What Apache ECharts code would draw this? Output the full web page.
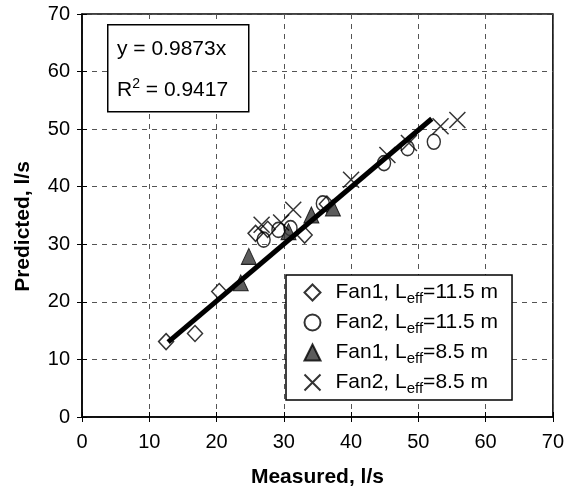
<!DOCTYPE html>
<html><head><meta charset="utf-8">
<script src="https://cdn.jsdelivr.net/npm/echarts@6/dist/echarts.min.js"></script>
<style>html,body{margin:0;padding:0;background:#fff}#c{width:567px;height:494px}</style>
</head><body><div id="c"></div>
<script>
var xTicks = [0,10,20,30,40,50,60,70];
var yTicks = [0,10,20,30,40,50,60,70];
var seriesNames = ['Fan1, Leff=11.5 m','Fan2, Leff=11.5 m','Fan1, Leff=8.5 m','Fan2, Leff=8.5 m'];
var fan1_115 = [[12.5,13.1],[16.8,14.5],[20.4,21.8],[25.8,31.9],[27.6,32.6],[33.1,31.6],[36.4,37.0]];
var fan2_115 = [[27.0,30.8],[29.2,32.5],[31.0,32.8],[35.8,37.1],[44.9,44.1],[48.4,46.7],[52.3,47.8]];
var fan1_85  = [[23.6,23.3],[24.8,27.9],[30.7,32.2],[34.1,35.1],[37.3,36.3]];
var fan2_85  = [[26.7,33.4],[29.6,33.8],[31.4,36.0],[40.0,41.2],[45.4,45.5],[48.6,47.6],[53.3,50.5],[55.8,51.6]];
var trendX = [12.8, 52.0];
var trendY = [13.0, 51.8];
var eqText = 'y = 0.9873x';
var r2Value = '0.9417';

var trend = trendX.map(function(x,i){return [x, trendY[i]];});
var F = 'Liberation Sans, Arial, sans-serif';
var xPath = 'path://M0,0L10,10M10,0L0,10';

function legendFmt(name){
  var m = name.match(/^(.*?L)eff(=.*)$/);
  return '{g|}{a|' + m[1] + '}{s|eff}{a|' + m[2] + '}';
}

var chart = echarts.init(document.getElementById('c'), null, {renderer:'canvas'});
var gridLine = {show:true, lineStyle:{color:'#555', type:[5,5], width:1}};
chart.setOption({
  animation:false,
  backgroundColor:'#fff',
  grid:{left:82, right:10, top:14, bottom:77, show:true, borderColor:'#000', borderWidth:1.5, backgroundColor:'transparent'},
  xAxis:[{
    type:'value', min:0, max:70, interval:10, position:'bottom',
    name:'Measured, l/s', nameLocation:'middle', nameGap:50,
    nameTextStyle:{fontFamily:F, fontSize:21, fontWeight:'bold', color:'#000'},
    axisLine:{show:true, onZero:false, lineStyle:{color:'#000', width:1.5}},
    axisTick:{show:true, inside:false, length:5, lineStyle:{color:'#000'}},
    axisLabel:{fontFamily:F, fontSize:20, color:'#000', margin:15, formatter:function(v){return xTicks.indexOf(v)>=0?String(v):'';}},
    splitLine:gridLine
  },{
    type:'value', min:0, max:70, interval:10, position:'bottom',
    axisLine:{show:false}, axisTick:{show:true, inside:true, length:5, lineStyle:{color:'#000'}},
    axisLabel:{show:false}, splitLine:{show:false}
  }],
  yAxis:[{
    type:'value', min:0, max:70, interval:10, position:'left',
    name:'Predicted, l/s', nameLocation:'middle', nameGap:48,
    nameTextStyle:{fontFamily:F, fontSize:21, fontWeight:'bold', color:'#000', padding:[0,22,0,0]},
    axisLine:{show:true, onZero:false, lineStyle:{color:'#000', width:1.5}},
    axisTick:{show:true, inside:false, length:5, lineStyle:{color:'#000'}},
    axisLabel:{fontFamily:F, fontSize:20, color:'#000', margin:12, formatter:function(v){return yTicks.indexOf(v)>=0?String(v):'';}},
    splitLine:gridLine
  },{
    type:'value', min:0, max:70, interval:10, position:'left',
    axisLine:{show:false}, axisTick:{show:true, inside:true, length:5, lineStyle:{color:'#000'}},
    axisLabel:{show:false}, splitLine:{show:false}
  }],
  legend:{
    orient:'vertical', left:286, top:275,
    backgroundColor:'#fff', borderColor:'#000', borderWidth:1.5,
    padding:[4,14,4,16], itemGap:3, itemWidth:16, itemHeight:16,
    data:seriesNames,
    formatter:legendFmt,
    textStyle:{
      rich:{
        g:{width:10, lineHeight:29},
        a:{fontFamily:F, fontSize:21, color:'#000', lineHeight:29},
        s:{fontFamily:F, fontSize:15, color:'#000', lineHeight:29, padding:[12,0,0,0]}
      }
    }
  },
  series:[
    {name:seriesNames[0], type:'scatter', data:fan1_115, symbol:'diamond', symbolSize:[15,16],
     itemStyle:{color:'#fff', borderColor:'#000', borderWidth:1.5}, z:3},
    {name:seriesNames[1], type:'scatter', data:fan2_115, symbol:'circle', symbolSize:[13,15],
     itemStyle:{color:'rgba(255,255,255,0)', borderColor:'#000', borderWidth:1.5}, z:3},
    {name:seriesNames[2], type:'scatter', data:fan1_85, symbol:'triangle', symbolSize:[15,16],
     itemStyle:{color:'#333', borderColor:'#000', borderWidth:1}, z:3},
    {name:seriesNames[3], type:'scatter', data:fan2_85, symbol:xPath, symbolSize:[16,16],
     itemStyle:{color:'none', borderColor:'#000', borderWidth:1.5}, z:3},
    {name:'trend', type:'line', data:trend, symbol:'none', lineStyle:{color:'#000', width:5}, z:4, silent:true}
  ],
  graphic:[
    {type:'rect', left:107, top:24, shape:{width:141, height:87},
     style:{fill:'#fff', stroke:'#000', lineWidth:1.5}, z:10},
    {type:'text', left:117, top:39, z:11,
     style:{text:eqText, font:'21px '+F, fill:'#000'}},
    {type:'text', left:117, top:77, z:11,
     style:{text:'{a|R}{p|2}{a| = ' + r2Value + '}', rich:{
       a:{fontFamily:F, fontSize:21, fill:'#000', lineHeight:28},
       p:{fontFamily:F, fontSize:14, fill:'#000', lineHeight:28, padding:[0,0,12,0]}
     }}}
  ]
});
</script></body></html>
